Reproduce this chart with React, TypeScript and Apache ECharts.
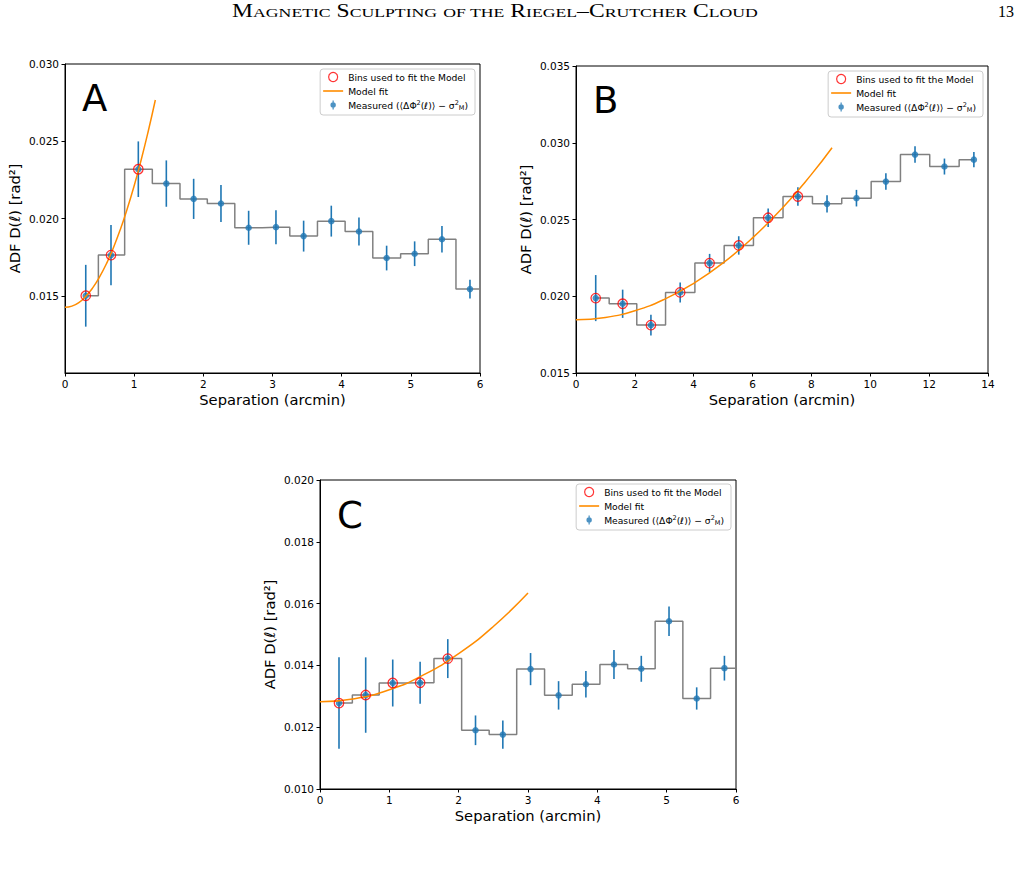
import React, { useEffect, useRef } from "react";
import * as echarts from "echarts";

// ---------- data ----------
// Panel A
const A_SEP = [0.30, 0.665, 1.06, 1.465, 1.86, 2.255, 2.655, 3.05, 3.45, 3.85, 4.25, 4.65, 5.055, 5.45, 5.855];
const A_ADF = [0.0150, 0.01763, 0.02319, 0.02226, 0.02127, 0.02097, 0.0194, 0.01944, 0.01886, 0.01983, 0.01916, 0.01744, 0.01772, 0.01866, 0.01543];
const A_ERR = [0.0020, 0.00195, 0.0018, 0.0015, 0.0013, 0.0012, 0.0011, 0.0011, 0.0010, 0.0010, 0.0009, 0.0008, 0.0008, 0.00086, 0.0006];
const A_FIT_BINS = [0, 1, 2];
const A_FIT_X = [0, 0.1, 0.2, 0.3, 0.4, 0.5, 0.6, 0.7, 0.8, 0.9, 1.0, 1.1, 1.2, 1.306];
const A_FIT_Y = [0.01425, 0.01433, 0.01456, 0.01496, 0.01551, 0.01622, 0.01708, 0.01811, 0.01929, 0.02063, 0.02212, 0.02377, 0.02558, 0.02767];
const A_YTICKS = [0.015, 0.020, 0.025, 0.030];

// Panel B
const B_SEP = [0.67, 1.585, 2.546, 3.54, 4.54, 5.53, 6.53, 7.54, 8.53, 9.53, 10.53, 11.52, 12.52, 13.52];
const B_ADF = [0.01988, 0.01951, 0.01812, 0.02025, 0.02216, 0.02331, 0.02511, 0.0265, 0.02602, 0.02639, 0.02747, 0.02923, 0.02845, 0.0289];
const B_ERR = [0.0015, 0.00092, 0.00068, 0.00065, 0.0006, 0.0006, 0.0006, 0.0006, 0.00056, 0.00054, 0.00054, 0.00054, 0.00052, 0.0005];
const B_FIT_BINS = [0, 1, 2, 3, 4, 5, 6, 7];
const B_FIT_X = [0, 1, 2, 3, 4, 5, 6, 7, 8, 8.7];
const B_FIT_Y = [0.01847, 0.01862, 0.01906, 0.0198, 0.02084, 0.02217, 0.0238, 0.02572, 0.02794, 0.02967];
const B_YTICKS = [0.015, 0.020, 0.025, 0.030, 0.035];

// Panel C
const C_SEP = [0.274, 0.659, 1.049, 1.444, 1.843, 2.243, 2.637, 3.037, 3.441, 3.835, 4.24, 4.634, 5.034, 5.433, 5.833];
const C_ADF = [0.01278, 0.01304, 0.01343, 0.01344, 0.01422, 0.0119, 0.01176, 0.01388, 0.01303, 0.01339, 0.01403, 0.01389, 0.01543, 0.01293, 0.01391];
const C_ERR = [0.00148, 0.00122, 0.00076, 0.00068, 0.00063, 0.00048, 0.00046, 0.00052, 0.00046, 0.00043, 0.00047, 0.00042, 0.00048, 0.00036, 0.0004];
const C_FIT_BINS = [0, 1, 2, 3, 4];
const C_FIT_X = [0, 0.5, 1.0, 1.5, 2.0, 2.5, 3.0];
const C_FIT_Y = [0.01282, 0.01292, 0.01321, 0.0137, 0.01438, 0.01526, 0.01634];
const C_YTICKS = [0.010, 0.012, 0.014, 0.016, 0.018, 0.020];

const NAME_BINS = "Bins used to fit the Model";
const NAME_FIT = "Model fit";
const NAME_MEAS = "Measured (⟨ΔΦ²(ℓ)⟩ − σ²M)";

// ---------- styles ----------
const FONT = "DejaVu Sans";
const SERIF = "Liberation Serif";
const BLUE = "#1f77b4";
const ORANGE = "#ff8c00";
const STEP_GRAY = "#808080";

type Panel = {
  grid: { left: number; top: number; width: number; height: number };
  xMax: number;
  xInterval: number;
  yMin: number;
  yMax: number;
  yTicks: number[];
  sep: number[];
  adf: number[];
  err: number[];
  fitBins: number[];
  fitX: number[];
  fitY: number[];
  extendStep: boolean;
  letter: string;
  letterX: number;
  letterY: number;
  legendRight: number;
  legendTop: number;
};

const PANELS: Panel[] = [
  {
    grid: { left: 65, top: 64, width: 415, height: 309 },
    xMax: 6, xInterval: 1, yMin: 0.010, yMax: 0.030, yTicks: A_YTICKS,
    sep: A_SEP, adf: A_ADF, err: A_ERR, fitBins: A_FIT_BINS, fitX: A_FIT_X, fitY: A_FIT_Y,
    extendStep: true, letter: "A", letterX: 82, letterY: 98.5, legendRight: 545, legendTop: 69,
  },
  {
    grid: { left: 576, top: 66, width: 412, height: 307 },
    xMax: 14, xInterval: 2, yMin: 0.015, yMax: 0.035, yTicks: B_YTICKS,
    sep: B_SEP, adf: B_ADF, err: B_ERR, fitBins: B_FIT_BINS, fitX: B_FIT_X, fitY: B_FIT_Y,
    extendStep: false, letter: "B", letterX: 593, letterY: 100.5, legendRight: 37, legendTop: 71,
  },
  {
    grid: { left: 320, top: 480, width: 416, height: 309 },
    xMax: 6, xInterval: 1, yMin: 0.010, yMax: 0.020, yTicks: C_YTICKS,
    sep: C_SEP, adf: C_ADF, err: C_ERR, fitBins: C_FIT_BINS, fitX: C_FIT_X, fitY: C_FIT_Y,
    extendStep: true, letter: "C", letterX: 337, letterY: 515, legendRight: 289, legendTop: 484,
  },
];

const MEAS_ICON = "path://M0,5 a3,3 0 1,1 6,0 a3,3 0 1,1 -6,0 Z M2.3,0 L3.7,0 L3.7,10 L2.3,10 Z";
const LINE_ICON = "path://M0,0 L20,0 L20,1.6 L0,1.6 Z";

function buildOption() {
  const grids: any[] = [];
  const xAxes: any[] = [];
  const yAxes: any[] = [];
  const series: any[] = [];
  const legends: any[] = [];
  const graphics: any[] = [];

  PANELS.forEach((p, gi) => {
    grids.push({
      ...p.grid,
      show: true,
      borderColor: "#000",
      borderWidth: 1,
      backgroundColor: "transparent",
    });
    xAxes.push({
      type: "value",
      gridIndex: gi,
      min: 0,
      max: p.xMax,
      interval: p.xInterval,
      splitLine: { show: false },
      axisLine: { show: true, onZero: false, lineStyle: { color: "#000", width: 1 } },
      axisTick: { show: true, inside: false, length: 3.5, lineStyle: { color: "#000", width: 1 } },
      axisLabel: { fontFamily: FONT, fontSize: 10.5, color: "#000", margin: 5 },
      name: "Separation (arcmin)",
      nameLocation: "middle",
      nameGap: 19,
      nameTextStyle: { fontFamily: FONT, fontSize: 14.7, color: "#000" },
    });
    yAxes.push({
      type: "value",
      gridIndex: gi,
      min: p.yMin,
      max: p.yMax,
      splitLine: { show: false },
      axisLine: { show: true, onZero: false, lineStyle: { color: "#000", width: 1 } },
      axisTick: {
        show: true, inside: false, length: 3.5, lineStyle: { color: "#000", width: 1 },
        customValues: p.yTicks,
      },
      axisLabel: {
        fontFamily: FONT, fontSize: 10.5, color: "#000", margin: 6,
        customValues: p.yTicks,
        formatter: (v: number) => v.toFixed(3),
      },
      name: "ADF D(ℓ) [rad²]",
      nameLocation: "middle",
      nameGap: 43,
      nameTextStyle: { fontFamily: FONT, fontSize: 14.7, color: "#000" },
    });

    // step line
    const stepData = p.sep.map((x, i) => [x, p.adf[i]]);
    if (p.extendStep) stepData.push([p.xMax, p.adf[p.adf.length - 1]]);
    series.push({
      type: "line",
      xAxisIndex: gi,
      yAxisIndex: gi,
      step: "middle",
      data: stepData,
      symbol: "none",
      lineStyle: { color: STEP_GRAY, width: 1.5 },
      z: 1,
      silent: true,
    });
    // error bars
    series.push({
      type: "custom",
      xAxisIndex: gi,
      yAxisIndex: gi,
      data: p.sep.map((x, i) => [x, p.adf[i] - p.err[i], p.adf[i] + p.err[i]]),
      encode: { x: 0, y: [1, 2] },
      z: 2,
      silent: true,
      renderItem: (_params: any, api: any) => {
        const a = api.coord([api.value(0), api.value(1)]);
        const b = api.coord([api.value(0), api.value(2)]);
        return {
          type: "line",
          shape: { x1: a[0], y1: a[1], x2: b[0], y2: b[1] },
          style: { stroke: BLUE, lineWidth: 1.6 },
        };
      },
    });
    // measured points
    series.push({
      type: "scatter",
      name: NAME_MEAS,
      xAxisIndex: gi,
      yAxisIndex: gi,
      data: p.sep.map((x, i) => [x, p.adf[i]]),
      symbol: "circle",
      symbolSize: 6.5,
      itemStyle: { color: BLUE },
      z: 3,
      silent: true,
    });
    // model fit
    series.push({
      type: "line",
      name: NAME_FIT,
      xAxisIndex: gi,
      yAxisIndex: gi,
      data: p.fitX.map((x, i) => [x, p.fitY[i]]),
      smooth: true,
      symbol: "none",
      lineStyle: { color: ORANGE, width: 1.5 },
      z: 4,
      silent: true,
    });
    // bins used
    series.push({
      type: "scatter",
      name: NAME_BINS,
      xAxisIndex: gi,
      yAxisIndex: gi,
      data: p.fitBins.map((i) => [p.sep[i], p.adf[i]]),
      symbol: "circle",
      symbolSize: 9.5,
      itemStyle: { color: "transparent", borderColor: "#ff0000", borderWidth: 1.3 },
      z: 5,
      silent: true,
    });

    legends.push({
      orient: "vertical",
      right: p.legendRight,
      top: p.legendTop,
      selectedMode: false,
      itemWidth: 20,
      itemHeight: 9,
      itemGap: 2,
      padding: [2, 7, 4, 3],
      backgroundColor: "rgba(255,255,255,0.8)",
      borderColor: "#cccccc",
      borderWidth: 1,
      borderRadius: 3,
      data: [
        { name: NAME_BINS, icon: "circle", itemStyle: { color: "transparent", borderColor: "#ff0000", borderWidth: 1.2 } },
        { name: NAME_FIT, icon: LINE_ICON, itemStyle: { color: ORANGE, borderWidth: 0 } },
        { name: NAME_MEAS, icon: MEAS_ICON, itemStyle: { color: BLUE, borderWidth: 0 } },
      ],
      formatter: (name: string) =>
        name === NAME_MEAS
          ? "{t|Measured (⟨ΔΦ}{sup|2}{t|(ℓ)⟩ − σ}{sup|2}{sub|M}{t|)}"
          : name,
      textStyle: {
        fontFamily: FONT,
        fontSize: 9.2,
        color: "#000",
        lineHeight: 12,
        rich: {
          t: { fontFamily: FONT, fontSize: 9.2, lineHeight: 12, color: "#000" },
          sup: { fontFamily: FONT, fontSize: 6.5, lineHeight: 7, verticalAlign: "top", color: "#000" },
          sub: { fontFamily: FONT, fontSize: 6.5, lineHeight: 7, verticalAlign: "bottom", color: "#000" },
        },
      },
    });

    graphics.push({
      type: "text",
      x: p.letterX,
      y: p.letterY,
      style: {
        text: p.letter,
        fontFamily: FONT,
        fontSize: 37,
        fill: "#000",
        align: "left",
        verticalAlign: "middle",
      },
    });
  });

  graphics.push({
    type: "text",
    x: 495,
    y: 10.5,
    scaleX: 1.31,
    style: {
      text:
        "{b|M}{s|AGNETIC}{b| }{b|S}{s|CULPTING}{b| }{s|OF THE}{b| }{b|R}{s|IEGEL}{b|–}{b|C}{s|RUTCHER}{b| }{b|C}{s|LOUD}",
      fontFamily: SERIF,
      fontSize: 18,
      fill: "#000",
      align: "center",
      verticalAlign: "middle",
      rich: {
        b: { fontFamily: SERIF, fontSize: 18, lineHeight: 18, verticalAlign: "bottom", fill: "#000" },
        s: { fontFamily: SERIF, fontSize: 13.5, lineHeight: 13.5, verticalAlign: "bottom", fill: "#000" },
      },
    },
  });
  graphics.push({
    type: "text",
    x: 1014,
    y: 11.5,
    style: {
      text: "13",
      fontFamily: SERIF,
      fontSize: 16,
      fill: "#000",
      align: "right",
      verticalAlign: "middle",
    },
  });

  return {
    animation: false,
    backgroundColor: "#ffffff",
    grid: grids,
    xAxis: xAxes,
    yAxis: yAxes,
    legend: legends,
    series,
    graphic: graphics,
  };
}

export default function App() {
  const ref = useRef<HTMLDivElement>(null);
  useEffect(() => {
    if (!ref.current) return;
    const chart = echarts.init(ref.current, undefined, { renderer: "svg" });
    chart.setOption(buildOption() as any);
    return () => chart.dispose();
  }, []);
  return (
    <div
      ref={ref}
      style={{ position: "absolute", left: 0, top: 0, width: 1020, height: 888, background: "#fff" }}
    />
  );
}
